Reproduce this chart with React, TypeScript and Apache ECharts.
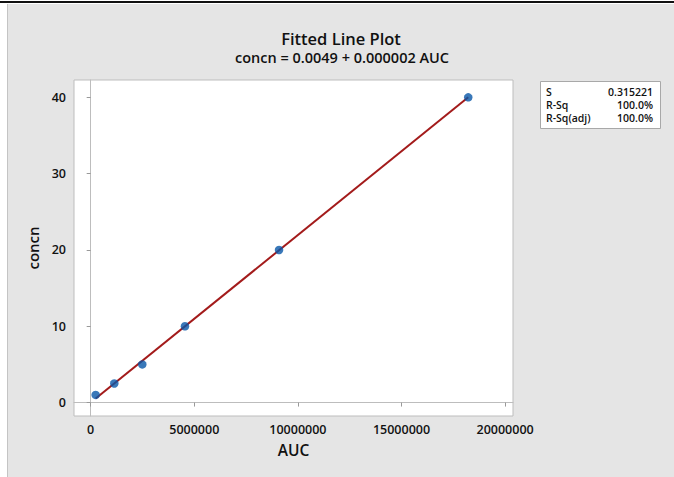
import React, { useEffect, useRef } from "react";
import * as echarts from "echarts";

const auc = [240000, 1140000, 2490000, 4550000, 9090000, 18220000];
const concn = [1, 2.5, 5, 10, 20, 40];
const fitX = [240000, 18220000];
const fitY = [0.53, 40.0];
const xTicks = [0, 5000000, 10000000, 15000000, 20000000];
const yTicks = [0, 10, 20, 30, 40];
const statLabels = ["S", "R-Sq", "R-Sq(adj)"];
const statValues = ["0.315221", "100.0%", "100.0%"];

const FONT = "'Open Sans', 'Noto Sans', sans-serif";

export default function App() {
  const ref = useRef<HTMLDivElement>(null);
  useEffect(() => {
    document.body.style.margin = "0";
    const chart = echarts.init(ref.current!, null, { renderer: "svg" });
    const statTexts: any[] = [];
    statLabels.forEach((l, i) => {
      statTexts.push({
        type: "text",
        z: 20,
        x: 546,
        y: 92 + i * 13,
        style: { text: l, fill: "#111", font: `600 10.5px ${FONT}`, textAlign: "left", textVerticalAlign: "middle" },
      });
      statTexts.push({
        type: "text",
        z: 20,
        x: 653,
        y: 92 + i * 13,
        style: { text: statValues[i], fill: "#111", font: `600 10.5px ${FONT}`, textAlign: "right", textVerticalAlign: "middle" },
      });
    });
    chart.setOption({
      animation: false,
      backgroundColor: "#ffffff",
      textStyle: { fontFamily: FONT },
      graphic: [
        { type: "rect", z: -100, shape: { x: 7, y: 4, width: 667, height: 473 }, style: { fill: "#e5e5e5" } },
        { type: "line", z: -99, shape: { x1: 7.5, y1: 4, x2: 7.5, y2: 477 }, style: { stroke: "#c4c4c4", lineWidth: 1 } },
        { type: "rect", z: 10, shape: { x: 0, y: 1, width: 674, height: 2 }, style: { fill: "#111" } },
        {
          type: "text",
          x: 341,
          y: 38,
          style: { text: "Fitted Line Plot", fill: "#111", font: `600 16.5px ${FONT}`, textAlign: "center", textVerticalAlign: "middle" },
        },
        {
          type: "text",
          x: 342,
          y: 57,
          style: { text: "concn = 0.0049 + 0.000002 AUC", fill: "#111", font: `600 14.5px ${FONT}`, textAlign: "center", textVerticalAlign: "middle" },
        },
        { type: "rect", z: 5, shape: { x: 540.5, y: 81.5, width: 120, height: 47 }, style: { fill: "#ffffff", stroke: "#a8a8a8", lineWidth: 1 } },
        ...statTexts,
      ],
      grid: {
        left: 74,
        top: 80,
        width: 439,
        height: 336,
        show: true,
        backgroundColor: "#ffffff",
        borderColor: "#bdbdbd",
        borderWidth: 1,
      },
      xAxis: {
        type: "value",
        min: -805000,
        max: 20380000,
        name: "AUC",
        nameLocation: "middle",
        nameGap: 26,
        nameTextStyle: { fontSize: 15.5, fontWeight: 600, color: "#111", fontFamily: FONT },
        axisLine: { show: true, lineStyle: { color: "#bdbdbd" } },
        axisTick: { show: true, length: 4, customValues: xTicks, lineStyle: { color: "#999" } },
        axisLabel: {
          customValues: xTicks,
          formatter: (v: number) => String(v),
          fontSize: 12.5,
          fontWeight: 600,
          color: "#111",
          margin: 7,
          fontFamily: FONT,
        },
        splitLine: { show: false },
      },
      yAxis: {
        type: "value",
        min: -1.76,
        max: 42.27,
        name: "concn",
        nameLocation: "middle",
        nameGap: 30,
        nameTextStyle: { fontSize: 15, fontWeight: 600, color: "#111", fontFamily: FONT },
        axisLine: { show: true, lineStyle: { color: "#bdbdbd" } },
        axisTick: { show: true, length: 4, customValues: yTicks, lineStyle: { color: "#999" } },
        axisLabel: {
          customValues: yTicks,
          formatter: (v: number) => String(v),
          fontSize: 12.5,
          fontWeight: 600,
          color: "#111",
          margin: 8,
          fontFamily: FONT,
        },
        splitLine: { show: false },
      },
      series: [
        {
          type: "line",
          data: fitX.map((x, i) => [x, fitY[i]]),
          showSymbol: false,
          symbol: "none",
          lineStyle: { color: "#a31b1b", width: 2 },
          z: 2,
        },
        {
          type: "scatter",
          data: auc.map((x, i) => [x, concn[i]]),
          symbolSize: 8.5,
          itemStyle: { color: "#0756a8" },
          z: 3,
        },
      ],
    });
    return () => chart.dispose();
  }, []);
  return <div ref={ref} style={{ width: 674, height: 477 }} />;
}
